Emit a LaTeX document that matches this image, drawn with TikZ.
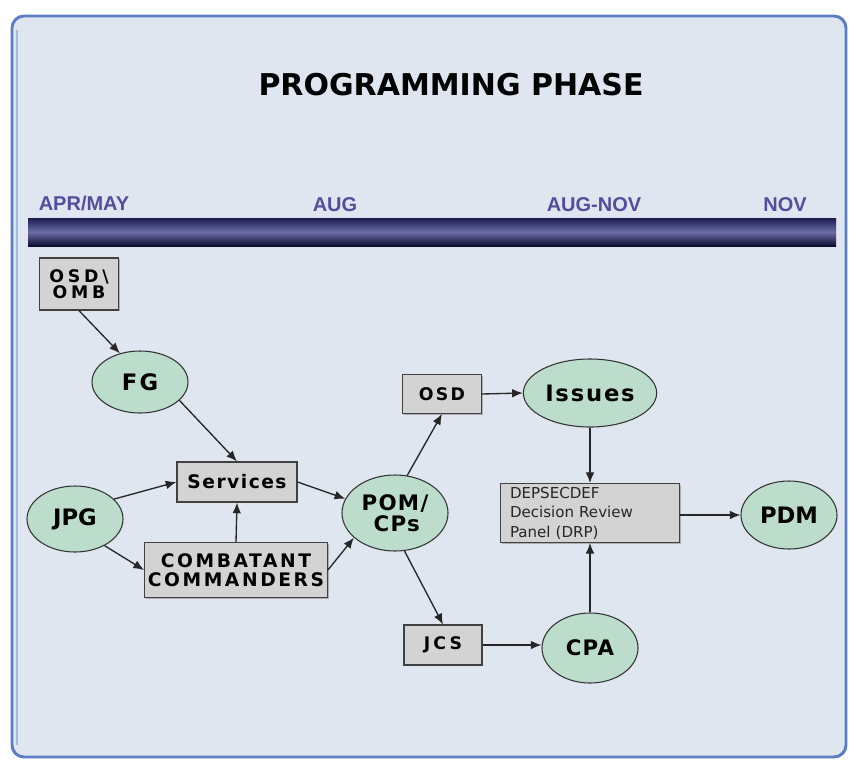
\documentclass[tikz,border=0pt]{standalone}
\usepackage{fontspec}
\setmainfont{DejaVu Sans}
\newfontfamily\monthfont{Liberation Sans}
\usetikzlibrary{arrows.meta,shapes.geometric,shadows}
\definecolor{panelbg}{HTML}{E0E6EF}
\definecolor{framecol}{HTML}{5A7DC6}
\definecolor{boxgray}{HTML}{D3D3D3}
\definecolor{ovalgreen}{HTML}{BCDDCB}
\definecolor{monthblue}{HTML}{4F4F9B}
\definecolor{bartop}{HTML}{1B1B4E}
\definecolor{barmid}{HTML}{6D6DA9}
\definecolor{barbot}{HTML}{0C0C2E}

\begin{document}
\begin{tikzpicture}[x=0.75pt,y=0.75pt,yscale=-1,xscale=1,
  gbox/.style={draw=black!75, fill=boxgray, line width=0.9pt, inner sep=1pt, align=center,
    drop shadow={shadow xshift=1pt,shadow yshift=-1pt,fill=black!45,opacity=0.6}},
  oval/.style={ellipse, draw=black!80, fill=ovalgreen, line width=0.8pt, inner sep=0pt, align=center,
    font=\bfseries\fontsize{17}{17}\selectfont},
  flow/.style={-{Latex[length=8pt,width=6.5pt]}, line width=1pt, draw=black!85},
  month/.style={text=monthblue, font=\monthfont\bfseries\fontsize{15}{15}\selectfont}]
\useasboundingbox (0,0) rectangle (849,761);
\fill[white] (0,0) rectangle (849,761);

%Shape: Frame
\draw[framecol, line width=2.2pt, fill=panelbg, rounded corners=9] (12,16) rectangle (846,757);
\draw[framecol!55, line width=1.5pt] (17,30) -- (17,745);

%Title and months
\node[font=\bfseries\fontsize{22.5}{23}\selectfont] (title) at (451,85) {PROGRAMMING PHASE};
\node[month] (aprmay) at (84,203) {APR/MAY};
\node[month] (aug) at (335,205) {AUG};
\node[month] (augnov) at (594,205) {AUG-NOV};
\node[month] (nov) at (785,205) {NOV};

%Shape: Bar
\shade[top color=bartop, bottom color=barbot, middle color=barmid] (28,218) rectangle (836,246);

%Boxes
\node[gbox, minimum width=59pt, minimum height=39pt,
  font=\bfseries\fontsize{13}{12}\selectfont\addfontfeature{LetterSpace=22}] (osdomb) at (79,284) {OSD\textbackslash\\OMB};
\node[gbox, minimum width=90pt, minimum height=30pt,
  font=\bfseries\fontsize{14}{14}\selectfont\addfontfeature{LetterSpace=8}] (serv) at (237,482) {Services};
\node[gbox, minimum width=137pt, minimum height=41pt,
  font=\bfseries\fontsize{14}{14}\selectfont\addfontfeature{LetterSpace=14}] (cc) at (236,570) {COMBATANT\\COMMANDERS};
\node[gbox, minimum width=59pt, minimum height=29pt,
  font=\bfseries\fontsize{13}{13}\selectfont\addfontfeature{LetterSpace=13}] (osd) at (442,394) {OSD};
\node[gbox, minimum width=58.5pt, minimum height=30pt,
  font=\bfseries\fontsize{13}{13}\selectfont\addfontfeature{LetterSpace=18}] (jcs) at (443,645) {JCS};
\node[gbox, minimum width=134pt, minimum height=44pt, text width=120pt, align=left, text=black!85,
  font=\fontsize{11.3}{14.6}\selectfont] (drp) at (590,513) {DEPSECDEF\\Decision Review\\Panel (DRP)};

%Ellipses
\node[oval, minimum width=72pt, minimum height=46.5pt, font=\bfseries\fontsize{17}{17}\selectfont\addfontfeature{LetterSpace=10}] (fg) at (140,382) {FG};
\node[oval, minimum width=72pt, minimum height=49.5pt] (jpg) at (75,519) {JPG};
\node[oval, minimum width=79.5pt, minimum height=57pt,
  font=\bfseries\fontsize{16}{15.5}\selectfont\addfontfeature{LetterSpace=6}] (pom) at (395,513) {POM/\\\,CPs};
\node[oval, minimum width=100pt, minimum height=51pt, font=\bfseries\fontsize{17}{17}\selectfont\addfontfeature{LetterSpace=8}] (issues) at (590,393) {Issues};
\node[oval, minimum width=72pt, minimum height=51pt] (pdm) at (789,515) {PDM};
\node[oval, minimum width=72pt, minimum height=52.5pt, font=\bfseries\fontsize{16}{16}\selectfont\addfontfeature{LetterSpace=6}] (cpa) at (590,648) {CPA};

%Straight Lines
\draw[flow] (osdomb.south) -- (fg.125);
\draw[flow] (fg.-25) -- (serv.north);
\draw[flow] (jpg.27) -- (serv.west);
\draw[flow] (jpg.-42) -- (cc.west);
\draw[flow] (cc.north) -- (serv.south);
\draw[flow] (serv.east) -- (pom.164);
\draw[flow] (cc.east) -- (pom.211);
\draw[flow] (pom.72) -- (osd.south);
\draw[flow] (pom.-76) -- (jcs.north);
\draw[flow] (osd.east) -- (issues.west);
\draw[flow] (issues.south) -- (drp.north);
\draw[flow] (cpa.north) -- (drp.south);
\draw[flow] (drp.east |- pdm.west) -- (pdm.west);
\draw[flow] (jcs.east) -- (jcs.east -| cpa.west);

\end{tikzpicture}
\end{document}
